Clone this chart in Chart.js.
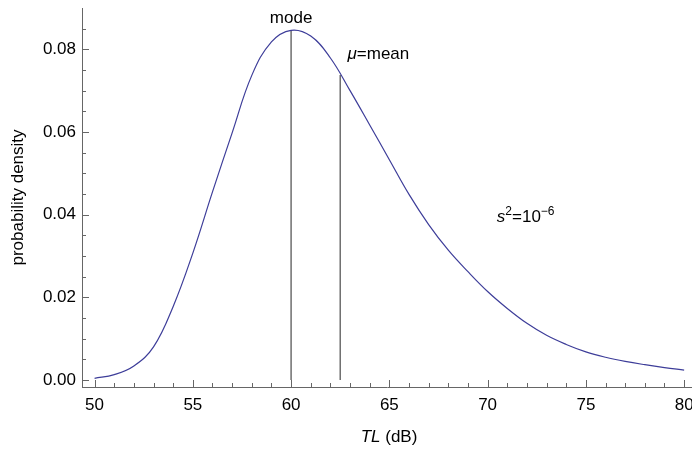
<!DOCTYPE html>
<html>
<head>
<meta charset="utf-8">
<script src="https://cdn.jsdelivr.net/npm/chart.js@4/dist/chart.umd.min.js"></script>
<style>
  html, body { margin: 0; padding: 0; background: #fff; }
</style>
</head>
<body>
<canvas id="chart" width="692" height="450"></canvas>
<script>
/** DATA */

const tlValues = [50, 51, 52, 53, 54, 55, 56, 57, 58, 59, 60, 61, 62, 63, 64, 65,
    66, 67, 68, 69, 70, 71, 72, 73, 74, 75, 76, 77, 78, 79, 80];
const density = [0.0004, 0.0013, 0.0034, 0.0080, 0.0178, 0.0307, 0.0455, 0.0598,
    0.0737, 0.0818, 0.0846, 0.0832, 0.0779, 0.0700, 0.0617, 0.0533, 0.0449,
    0.0376, 0.0314, 0.0262, 0.0214, 0.0173, 0.0137, 0.0108, 0.0086, 0.0068,
    0.0055, 0.0045, 0.0037, 0.0030, 0.0024];

const modeX = 60;
const modeY = 0.0846;
const meanX = 62.5;
const meanY = 0.0738;

const xMajorTicks = [50, 55, 60, 65, 70, 75, 80];
const xMinorTicks = [51, 52, 53, 54, 56, 57, 58, 59, 61, 62, 63, 64, 66, 67, 68, 69,
    71, 72, 73, 74, 76, 77, 78, 79];
const yMajorTicks = [0, 0.02, 0.04, 0.06, 0.08];
const yMinorTicks = [0.005, 0.01, 0.015, 0.025, 0.03, 0.035, 0.045, 0.05, 0.055,
    0.065, 0.07, 0.075, 0.085];

/** STYLE */

const fontFamily = "'Liberation Sans', Arial, sans-serif";
const curveColor = 'rgb(61, 61, 153)';
const axisColor = '#666666';
const markerColor = '#6e6e6e';

/** PLUGIN */

const setFont = (ctx, size, italic) => {
    ctx.font = `${italic ? 'italic ' : ''}${size}px ${fontFamily}`;
}

// parts: [{ text, italic, sup }]
const measureParts = (ctx, parts) => {
    let w = 0;
    parts.forEach(p => {
        setFont(ctx, p.sup ? 12 : 17, p.italic);
        w += ctx.measureText(p.text).width;
    });
    return w;
}

const drawParts = (ctx, parts, x, y) => {
    let cx = x;
    parts.forEach(p => {
        setFont(ctx, p.sup ? 12 : 17, p.italic);
        ctx.fillText(p.text, cx, p.sup ? y - 7 : y);
        cx += ctx.measureText(p.text).width;
    });
}

const decorations = {
    id: 'decorations',
    afterDraw(chart) {
        const { ctx, chartArea, scales: { x, y } } = chart;
        ctx.save();

        // inward ticks
        ctx.strokeStyle = axisColor;
        ctx.lineWidth = 1;
        ctx.beginPath();
        const xTick = (v, len) => {
            const px = Math.round(x.getPixelForValue(v)) + 0.5;
            ctx.moveTo(px, chartArea.bottom);
            ctx.lineTo(px, chartArea.bottom - len);
        };
        const yTick = (v, len) => {
            const py = Math.round(y.getPixelForValue(v)) + 0.5;
            ctx.moveTo(chartArea.left, py);
            ctx.lineTo(chartArea.left + len, py);
        };
        xMajorTicks.forEach(v => xTick(v, 7));
        xMinorTicks.forEach(v => xTick(v, 4));
        yMajorTicks.forEach(v => yTick(v, 7));
        yMinorTicks.forEach(v => yTick(v, 4));
        ctx.stroke();

        // text labels
        ctx.fillStyle = '#000';
        ctx.textBaseline = 'alphabetic';
        ctx.textAlign = 'left';

        const modeParts = [{ text: 'mode' }];
        const mw = measureParts(ctx, modeParts);
        drawParts(ctx, modeParts, x.getPixelForValue(modeX) - mw / 2, y.getPixelForValue(0.0863));

        drawParts(ctx, [{ text: 'μ', italic: true }, { text: '=mean' }],
            x.getPixelForValue(62.87), y.getPixelForValue(0.0777));

        drawParts(ctx, [
            { text: 's', italic: true }, { text: '2', sup: true },
            { text: '=10' }, { text: '−6', sup: true }
        ], x.getPixelForValue(70.47), y.getPixelForValue(0.0382));

        // x axis title
        const xt = [{ text: 'TL', italic: true }, { text: ' (dB)' }];
        const xw = measureParts(ctx, xt);
        drawParts(ctx, xt, (chartArea.left + chartArea.right) / 2 - xw / 2 + 2, 442);

        // y axis title
        ctx.translate(23, (chartArea.top + chartArea.bottom) / 2);
        ctx.rotate(-Math.PI / 2);
        ctx.textAlign = 'center';
        setFont(ctx, 17, false);
        ctx.fillText('probability density', 0, 0);

        ctx.restore();
    }
};

/** CHART */

const curvePoints = tlValues.map((t, i) => ({ x: t, y: density[i] }));

new Chart(document.getElementById('chart'), {
    type: 'scatter',
    data: {
        datasets: [
            {
                data: curvePoints,
                showLine: true,
                borderColor: curveColor,
                borderWidth: 1.2,
                pointRadius: 0,
                tension: 0.4
            },
            {
                data: [{ x: modeX, y: 0 }, { x: modeX, y: modeY }],
                showLine: true,
                borderColor: markerColor,
                borderWidth: 1.5,
                pointRadius: 0
            },
            {
                data: [{ x: meanX, y: 0 }, { x: meanX, y: meanY }],
                showLine: true,
                borderColor: markerColor,
                borderWidth: 1.5,
                pointRadius: 0
            }
        ]
    },
    options: {
        responsive: false,
        animation: false,
        devicePixelRatio: 1,
        layout: { padding: { top: 8, right: 0, left: 0, bottom: 0 } },
        plugins: {
            legend: { display: false },
            tooltip: { enabled: false }
        },
        scales: {
            x: {
                type: 'linear',
                min: 49.36,
                max: 80.4,
                afterBuildTicks: (scale) => { scale.ticks = xMajorTicks.map(v => ({ value: v })); },
                afterFit: (scale) => {
                    scale.height = 63;
                    scale.paddingLeft = 0;
                    scale.paddingRight = 0;
                },
                grid: { display: false, drawTicks: false },
                border: { display: true, color: axisColor, width: 1 },
                ticks: {
                    padding: 8,
                    color: '#000',
                    font: { family: fontFamily, size: 17 },
                    maxRotation: 0,
                    callback: (v) => String(v)
                }
            },
            y: {
                type: 'linear',
                min: -0.0017,
                max: 0.09,
                afterBuildTicks: (scale) => { scale.ticks = yMajorTicks.map(v => ({ value: v })); },
                afterFit: (scale) => {
                    scale.width = 82;
                    scale.paddingTop = 0;
                    scale.paddingBottom = 0;
                },
                grid: { display: false, drawTicks: false },
                border: { display: true, color: axisColor, width: 1 },
                ticks: {
                    padding: 6,
                    color: '#000',
                    font: { family: fontFamily, size: 17 },
                    callback: (v) => v.toFixed(2)
                }
            }
        }
    },
    plugins: [decorations]
});
</script>
</body>
</html>
